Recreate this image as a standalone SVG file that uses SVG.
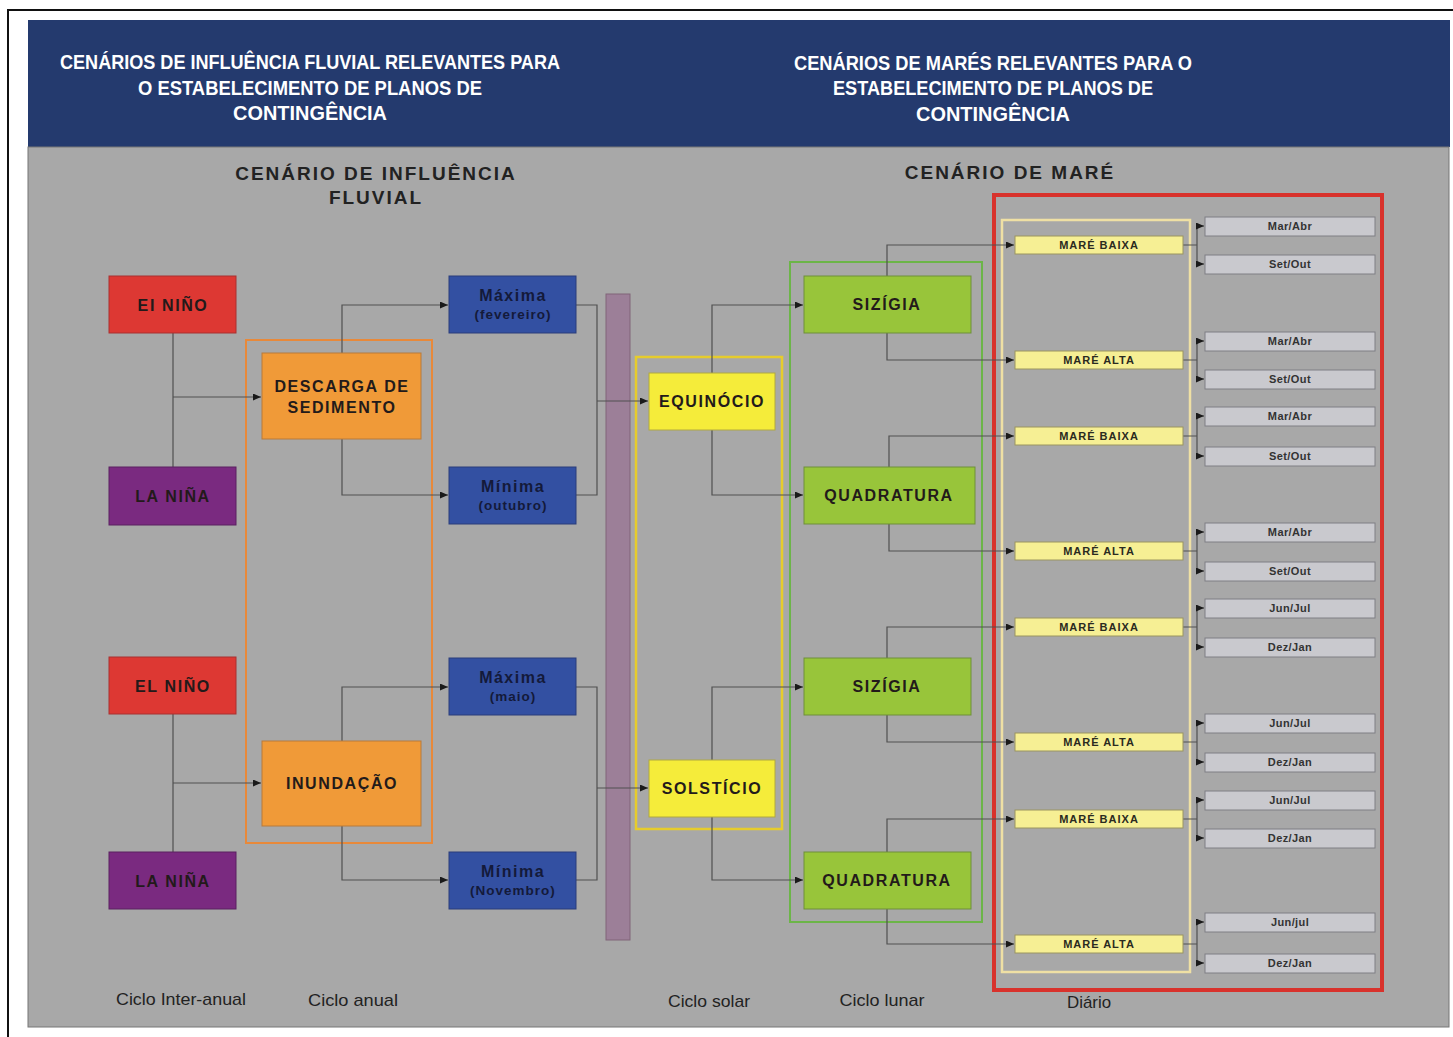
<svg xmlns="http://www.w3.org/2000/svg" width="1453" height="1037" viewBox="0 0 1453 1037">
  <defs>
    <marker id="arr" markerWidth="8" markerHeight="7" refX="8" refY="3.5" orient="auto" markerUnits="userSpaceOnUse">
      <path d="M0,0 L8,3.5 L0,7 z" fill="#1a1a1a"/>
    </marker>
    <style>
      .hdr { font-family: "Liberation Sans", Arial, sans-serif; font-weight: bold; font-size: 20px; fill: #ffffff; text-anchor: middle; }
      .sub { font-family: "Liberation Sans", Arial, sans-serif; font-weight: bold; font-size: 19px; fill: #222; text-anchor: middle; letter-spacing: 2px; }
      .big { font-family: "Liberation Sans", Arial, sans-serif; font-weight: bold; font-size: 16px; fill: #231a1a; text-anchor: middle; letter-spacing: 1.6px; }
      .mx { font-family: "Liberation Sans", Arial, sans-serif; font-weight: bold; font-size: 16px; fill: #141a3a; text-anchor: middle; letter-spacing: 1.5px; }
      .mxs { font-family: "Liberation Sans", Arial, sans-serif; font-weight: bold; font-size: 13.5px; fill: #141a3a; text-anchor: middle; letter-spacing: 1px; }
      .sm { font-family: "Liberation Sans", Arial, sans-serif; font-weight: bold; font-size: 11px; fill: #2a2a20; text-anchor: middle; letter-spacing: 1px; }
      .mo { font-family: "Liberation Sans", Arial, sans-serif; font-weight: bold; font-size: 11px; fill: #333; text-anchor: middle; letter-spacing: 0.4px; }
      .cyc { font-family: "Liberation Sans", Arial, sans-serif; font-size: 17px; fill: #222; text-anchor: middle; }
      .red { fill: #dd3833; stroke: #a83030; stroke-width: 1; }
      .pur { fill: #7a2a80; stroke: #5a2060; stroke-width: 1; }
      .blu { fill: #3350a2; stroke: #2a3d7a; stroke-width: 1; }
      .ora { fill: #f09a38; stroke: #b87a3a; stroke-width: 1; }
      .yel { fill: #f5ec3a; stroke: #b0a840; stroke-width: 1; }
      .grn { fill: #98c53a; stroke: #6e8f3a; stroke-width: 1; }
      .pyl { fill: #f6ef94; stroke: #9a9460; stroke-width: 1; }
      .mon { fill: #c9c9ce; stroke: #7e7e84; stroke-width: 1; }
      .con { fill: none; stroke: #505050; stroke-width: 1.2; }
      .arw { fill: none; stroke: #505050; stroke-width: 1.2; marker-end: url(#arr); }
    </style>
  </defs>

  <!-- page frame -->
  <rect x="0" y="0" width="1453" height="1037" fill="#ffffff"/>
  <path d="M8,1037 V10 H1453" fill="none" stroke="#111" stroke-width="2"/>

  <!-- header band and panel -->
  <rect x="28" y="20" width="1422" height="127" fill="#243a6e"/>
  <rect x="28" y="147" width="1421" height="880" fill="#a8a8a8" stroke="#777" stroke-width="1"/>

  <g id="header-left">
    <text class="hdr" x="310" y="69" textLength="500" lengthAdjust="spacingAndGlyphs">CENÁRIOS DE INFLUÊNCIA FLUVIAL RELEVANTES PARA</text>
    <text class="hdr" x="310" y="95" textLength="344" lengthAdjust="spacingAndGlyphs">O ESTABELECIMENTO DE PLANOS DE</text>
    <text class="hdr" x="310" y="120" textLength="154" lengthAdjust="spacingAndGlyphs">CONTINGÊNCIA</text>
  </g>
  <g id="header-right">
    <text class="hdr" x="993" y="70" textLength="398" lengthAdjust="spacingAndGlyphs">CENÁRIOS DE MARÉS RELEVANTES PARA O</text>
    <text class="hdr" x="993" y="95" textLength="320" lengthAdjust="spacingAndGlyphs">ESTABELECIMENTO DE PLANOS DE</text>
    <text class="hdr" x="993" y="121" textLength="154" lengthAdjust="spacingAndGlyphs">CONTINGÊNCIA</text>
  </g>

  <g id="subtitles">
    <text class="sub" x="376" y="180">CENÁRIO DE INFLUÊNCIA</text>
    <text class="sub" x="376" y="204">FLUVIAL</text>
    <text class="sub" x="1010" y="179">CENÁRIO DE MARÉ</text>
  </g>

  <!-- grouping frames -->
  <g id="frames">
    <rect x="246" y="340" width="186" height="503" fill="none" stroke="#e8893a" stroke-width="2"/>
    <rect x="606" y="294" width="24" height="646" fill="#9c7f98" stroke="#806478" stroke-width="1"/>
    <rect x="636" y="357" width="146" height="472" fill="none" stroke="#e6cc2c" stroke-width="2.5"/>
    <rect x="790" y="262" width="192" height="660" fill="none" stroke="#6cb548" stroke-width="2"/>
    <rect x="994" y="195" width="388" height="795" fill="none" stroke="#d8322c" stroke-width="4"/>
    <rect x="1002" y="220" width="188" height="752" fill="none" stroke="#efe0a4" stroke-width="2.5"/>
  </g>

  <!-- connectors -->
  <g id="connectors">
    <path class="con" d="M173,333 V467"/>
    <path class="arw" d="M173,397 H261"/>
    <path class="con" d="M173,714 V852"/>
    <path class="arw" d="M173,783 H261"/>
    <path class="arw" d="M342,353 V305 H448"/>
    <path class="arw" d="M342,439 V495 H448"/>
    <path class="arw" d="M342,741 V687 H448"/>
    <path class="arw" d="M342,826 V880 H448"/>
    <path class="con" d="M576,305 H597 V495 H576"/>
    <path class="arw" d="M597,401 H648"/>
    <path class="con" d="M576,687 H597 V880 H576"/>
    <path class="arw" d="M597,788 H648"/>
    <path class="arw" d="M712,373 V305 H803"/>
    <path class="arw" d="M712,430 V495 H803"/>
    <path class="arw" d="M712,760 V687 H803"/>
    <path class="arw" d="M712,817 V880 H803"/>
    <path class="arw" d="M887,276 V245 H1014"/>
    <path class="arw" d="M887,333 V360 H1014"/>
    <path class="arw" d="M889,467 V436 H1014"/>
    <path class="arw" d="M889,524 V551 H1014"/>
    <path class="arw" d="M887,658 V627 H1014"/>
    <path class="arw" d="M887,715 V742 H1014"/>
    <path class="arw" d="M887,852 V819 H1014"/>
    <path class="arw" d="M887,909 V944 H1014"/>
    <!-- tide to month branches -->
    <path class="con" d="M1183,245 H1197 M1197,226 V264 M1183,360 H1197 M1197,341 V379 M1183,436 H1197 M1197,416 V456 M1183,551 H1197 M1197,532 V571 M1183,627 H1197 M1197,608 V647 M1183,742 H1197 M1197,723 V762 M1183,819 H1197 M1197,800 V838 M1183,944 H1197 M1197,922 V963"/>
    <path class="arw" d="M1197,226 H1204"/><path class="arw" d="M1197,264 H1204"/>
    <path class="arw" d="M1197,341 H1204"/><path class="arw" d="M1197,379 H1204"/>
    <path class="arw" d="M1197,416 H1204"/><path class="arw" d="M1197,456 H1204"/>
    <path class="arw" d="M1197,532 H1204"/><path class="arw" d="M1197,571 H1204"/>
    <path class="arw" d="M1197,608 H1204"/><path class="arw" d="M1197,647 H1204"/>
    <path class="arw" d="M1197,723 H1204"/><path class="arw" d="M1197,762 H1204"/>
    <path class="arw" d="M1197,800 H1204"/><path class="arw" d="M1197,838 H1204"/>
    <path class="arw" d="M1197,922 H1204"/><path class="arw" d="M1197,963 H1204"/>
  </g>

  <!-- inter-annual cycle -->
  <g id="el-nino-1"><rect class="red" x="109" y="276" width="127" height="57"/><text class="big" x="173" y="311">EI NIÑO</text></g>
  <g id="la-nina-1"><rect class="pur" x="109" y="467" width="127" height="58"/><text class="big" x="173" y="502">LA NIÑA</text></g>
  <g id="el-nino-2"><rect class="red" x="109" y="657" width="127" height="57"/><text class="big" x="173" y="692">EL NIÑO</text></g>
  <g id="la-nina-2"><rect class="pur" x="109" y="852" width="127" height="57"/><text class="big" x="173" y="887">LA NIÑA</text></g>

  <!-- annual cycle -->
  <g id="descarga"><rect class="ora" x="262" y="353" width="159" height="86"/><text class="big" x="342" y="392">DESCARGA DE</text><text class="big" x="342" y="413">SEDIMENTO</text></g>
  <g id="inundacao"><rect class="ora" x="262" y="741" width="159" height="85"/><text class="big" x="342" y="789">INUNDAÇÃO</text></g>

  <g id="maxima-fev"><rect class="blu" x="449" y="276" width="127" height="57"/><text class="mx" x="513" y="301">Máxima</text><text class="mxs" x="513" y="319">(fevereiro)</text></g>
  <g id="minima-out"><rect class="blu" x="449" y="467" width="127" height="57"/><text class="mx" x="513" y="492">Mínima</text><text class="mxs" x="513" y="510">(outubro)</text></g>
  <g id="maxima-mai"><rect class="blu" x="449" y="658" width="127" height="57"/><text class="mx" x="513" y="683">Máxima</text><text class="mxs" x="513" y="701">(maio)</text></g>
  <g id="minima-nov"><rect class="blu" x="449" y="852" width="127" height="57"/><text class="mx" x="513" y="877">Mínima</text><text class="mxs" x="513" y="895">(Novembro)</text></g>

  <!-- solar cycle -->
  <g id="equinocio"><rect class="yel" x="649" y="373" width="126" height="57"/><text class="big" x="712" y="407">EQUINÓCIO</text></g>
  <g id="solsticio"><rect class="yel" x="649" y="760" width="126" height="57"/><text class="big" x="712" y="794">SOLSTÍCIO</text></g>

  <!-- lunar cycle -->
  <g id="sizigia-1"><rect class="grn" x="804" y="276" width="167" height="57"/><text class="big" x="887" y="310">SIZÍGIA</text></g>
  <g id="quadratura-1"><rect class="grn" x="804" y="467" width="171" height="57"/><text class="big" x="889" y="501">QUADRATURA</text></g>
  <g id="sizigia-2"><rect class="grn" x="804" y="658" width="167" height="57"/><text class="big" x="887" y="692">SIZÍGIA</text></g>
  <g id="quadratura-2"><rect class="grn" x="804" y="852" width="167" height="57"/><text class="big" x="887" y="886">QUADRATURA</text></g>

  <!-- daily tides -->
  <g id="mare-1"><rect class="pyl" x="1015" y="236" width="168" height="18"/><text class="sm" x="1099" y="249">MARÉ BAIXA</text></g>
  <g id="mare-2"><rect class="pyl" x="1015" y="351" width="168" height="18"/><text class="sm" x="1099" y="364">MARÉ ALTA</text></g>
  <g id="mare-3"><rect class="pyl" x="1015" y="427" width="168" height="18"/><text class="sm" x="1099" y="440">MARÉ BAIXA</text></g>
  <g id="mare-4"><rect class="pyl" x="1015" y="542" width="168" height="18"/><text class="sm" x="1099" y="555">MARÉ ALTA</text></g>
  <g id="mare-5"><rect class="pyl" x="1015" y="618" width="168" height="18"/><text class="sm" x="1099" y="631">MARÉ BAIXA</text></g>
  <g id="mare-6"><rect class="pyl" x="1015" y="733" width="168" height="18"/><text class="sm" x="1099" y="746">MARÉ ALTA</text></g>
  <g id="mare-7"><rect class="pyl" x="1015" y="810" width="168" height="18"/><text class="sm" x="1099" y="823">MARÉ BAIXA</text></g>
  <g id="mare-8"><rect class="pyl" x="1015" y="935" width="168" height="18"/><text class="sm" x="1099" y="948">MARÉ ALTA</text></g>

  <!-- months -->
  <g id="mes-1"><rect class="mon" x="1205" y="217" width="170" height="19"/><text class="mo" x="1290" y="230">Mar/Abr</text></g>
  <g id="mes-2"><rect class="mon" x="1205" y="255" width="170" height="19"/><text class="mo" x="1290" y="268">Set/Out</text></g>
  <g id="mes-3"><rect class="mon" x="1205" y="332" width="170" height="19"/><text class="mo" x="1290" y="345">Mar/Abr</text></g>
  <g id="mes-4"><rect class="mon" x="1205" y="370" width="170" height="19"/><text class="mo" x="1290" y="383">Set/Out</text></g>
  <g id="mes-5"><rect class="mon" x="1205" y="407" width="170" height="19"/><text class="mo" x="1290" y="420">Mar/Abr</text></g>
  <g id="mes-6"><rect class="mon" x="1205" y="447" width="170" height="19"/><text class="mo" x="1290" y="460">Set/Out</text></g>
  <g id="mes-7"><rect class="mon" x="1205" y="523" width="170" height="19"/><text class="mo" x="1290" y="536">Mar/Abr</text></g>
  <g id="mes-8"><rect class="mon" x="1205" y="562" width="170" height="19"/><text class="mo" x="1290" y="575">Set/Out</text></g>
  <g id="mes-9"><rect class="mon" x="1205" y="599" width="170" height="19"/><text class="mo" x="1290" y="612">Jun/Jul</text></g>
  <g id="mes-10"><rect class="mon" x="1205" y="638" width="170" height="19"/><text class="mo" x="1290" y="651">Dez/Jan</text></g>
  <g id="mes-11"><rect class="mon" x="1205" y="714" width="170" height="19"/><text class="mo" x="1290" y="727">Jun/Jul</text></g>
  <g id="mes-12"><rect class="mon" x="1205" y="753" width="170" height="19"/><text class="mo" x="1290" y="766">Dez/Jan</text></g>
  <g id="mes-13"><rect class="mon" x="1205" y="791" width="170" height="19"/><text class="mo" x="1290" y="804">Jun/Jul</text></g>
  <g id="mes-14"><rect class="mon" x="1205" y="829" width="170" height="19"/><text class="mo" x="1290" y="842">Dez/Jan</text></g>
  <g id="mes-15"><rect class="mon" x="1205" y="913" width="170" height="19"/><text class="mo" x="1290" y="926">Jun/jul</text></g>
  <g id="mes-16"><rect class="mon" x="1205" y="954" width="170" height="19"/><text class="mo" x="1290" y="967">Dez/Jan</text></g>

  <!-- cycle labels -->
  <g id="cycle-labels">
    <text class="cyc" x="181" y="1005" textLength="130" lengthAdjust="spacingAndGlyphs">Ciclo Inter-anual</text>
    <text class="cyc" x="353" y="1006" textLength="90" lengthAdjust="spacingAndGlyphs">Ciclo anual</text>
    <text class="cyc" x="709" y="1007" textLength="82" lengthAdjust="spacingAndGlyphs">Ciclo solar</text>
    <text class="cyc" x="882" y="1006" textLength="85" lengthAdjust="spacingAndGlyphs">Ciclo lunar</text>
    <text class="cyc" x="1089" y="1008" textLength="44" lengthAdjust="spacingAndGlyphs">Diário</text>
  </g>
</svg>
